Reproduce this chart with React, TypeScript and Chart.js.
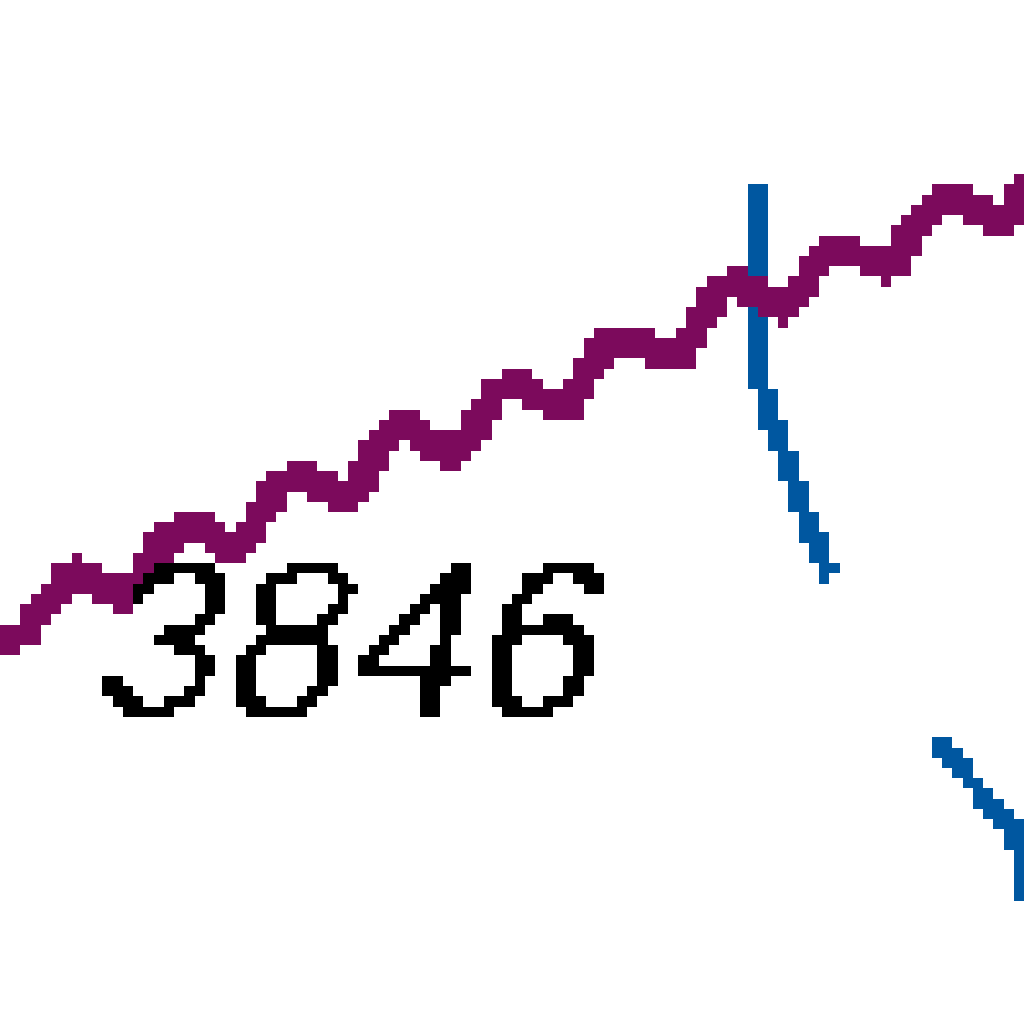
import { useEffect, useRef } from "react";
import { Chart, registerables } from "chart.js";

Chart.register(...registerables);

// zoomed crop of a bigger chart: values are in the crop's own 0..1024 units
const purpleX = [0, 15, 45, 75, 125, 155, 185, 240, 265, 295, 350, 375, 405, 455, 480, 510, 565, 590, 620, 680, 700, 730, 785, 810, 840, 890, 915, 945, 1000, 1030];
const purpleY = [392, 384, 419, 454, 427, 469, 499, 476, 519, 549, 527, 569, 599, 566, 609, 639, 614, 659, 687, 667, 704, 739, 714, 749, 779, 754, 799, 827, 804, 839];

const blueX = [756, 760, 829, 880, 932, 995, 1014, 1030];
const blueY = [841, 644, 446, null, 286, 216, 189, 124];

const labelText = "3846";
const labelX = 88;
const labelY = 306;

const PURPLE = "rgb(124, 10, 92)";
const BLUE = "rgb(0, 87, 160)";
const LINE_INK = [
  [124, 10, 92],
  [0, 87, 160],
];
const ALL_INK = [...LINE_INK, [0, 0, 0]];

const SIZE = 100; // low-res canvas, blown up to 1024
const SCALE = 10.24;

// snap every pixel to one ink colour or white (no anti-aliasing, like the source)
function snap(chart: any, inks: number[][]) {
  const ctx = chart.ctx;
  const w = chart.canvas.width;
  const h = chart.canvas.height;
  const img = ctx.getImageData(0, 0, w, h);
  const d = img.data;
  for (let i = 0; i < d.length; i += 4) {
    const a = d[i + 3] / 255;
    const v = [(255 - d[i]) * a, (255 - d[i + 1]) * a, (255 - d[i + 2]) * a];
    let best: number[] | null = null;
    let bestRes = Infinity;
    let bestCov = 0;
    for (const p of inks) {
      const u = [255 - p[0], 255 - p[1], 255 - p[2]];
      const uu = u[0] * u[0] + u[1] * u[1] + u[2] * u[2];
      let cov = (v[0] * u[0] + v[1] * u[1] + v[2] * u[2]) / uu;
      cov = Math.max(0, Math.min(1, cov));
      const res = (v[0] - cov * u[0]) ** 2 + (v[1] - cov * u[1]) ** 2 + (v[2] - cov * u[2]) ** 2;
      if (res < bestRes) {
        bestRes = res;
        best = p;
        bestCov = cov;
      }
    }
    const c = best && bestCov >= 0.5 ? best : [255, 255, 255];
    d[i] = c[0];
    d[i + 1] = c[1];
    d[i + 2] = c[2];
    d[i + 3] = 255;
  }
  ctx.putImageData(img, 0, 0);
}

const snapLinesPlugin = {
  id: "snapLines",
  afterDatasetsDraw(chart: any) {
    snap(chart, LINE_INK);
  },
};

const labelPlugin = {
  id: "valueLabel",
  afterDatasetsDraw(chart: any) {
    const { ctx, scales } = chart;
    const x = scales.x.getPixelForValue(labelX);
    const y = scales.y.getPixelForValue(labelY);
    ctx.save();
    // slanted like the italic label of the source
    ctx.setTransform(1, 0, -0.25, 1, 0.25 * y, 0);
    ctx.font = '22px "Liberation Sans"';
    ctx.fillStyle = "#000";
    ctx.textBaseline = "alphabetic";
    ctx.fillText(labelText, x, y);
    ctx.restore();
  },
};

const snapAllPlugin = {
  id: "snapAll",
  afterDraw(chart: any) {
    snap(chart, ALL_INK);
  },
};

function CropChart() {
  const chartRef = useRef<HTMLCanvasElement>(null);
  const chartInstance = useRef<Chart | null>(null);

  useEffect(() => {
    if (!chartRef.current) return;
    if (chartInstance.current) chartInstance.current.destroy();

    chartInstance.current = new Chart(chartRef.current, {
      type: "line",
      data: {
        datasets: [
          {
            data: purpleX.map((x, i) => ({ x, y: purpleY[i] })),
            borderColor: PURPLE,
            borderWidth: 3,
            pointRadius: 0,
            cubicInterpolationMode: "monotone",
            fill: false,
          },
          {
            data: blueX.map((x, i) => ({ x, y: blueY[i] })),
            borderColor: BLUE,
            borderWidth: 2,
            pointRadius: 0,
            tension: 0.2,
            spanGaps: false,
            fill: false,
          },
        ],
      },
      options: {
        animation: false,
        responsive: false,
        devicePixelRatio: 1,
        events: [],
        layout: { padding: 0 },
        plugins: {
          legend: { display: false },
          tooltip: { enabled: false },
        },
        scales: {
          x: { type: "linear", min: 0, max: 1024, display: false },
          y: { type: "linear", min: 0, max: 1024, display: false },
        },
      },
      plugins: [snapLinesPlugin, labelPlugin, snapAllPlugin],
    });

    return () => {
      if (chartInstance.current) {
        chartInstance.current.destroy();
        chartInstance.current = null;
      }
    };
  }, []);

  return (
    <div
      style={{
        width: SIZE,
        height: SIZE,
        transform: `scale(${SCALE})`,
        transformOrigin: "0 0",
      }}
    >
      <canvas
        ref={chartRef}
        width={SIZE}
        height={SIZE}
        style={{ imageRendering: "pixelated", display: "block" }}
      ></canvas>
    </div>
  );
}

export default function App() {
  return (
    <div
      style={{
        position: "fixed",
        left: 0,
        top: 0,
        width: 1024,
        height: 1024,
        overflow: "hidden",
        background: "#fff",
      }}
    >
      <CropChart />
    </div>
  );
}
